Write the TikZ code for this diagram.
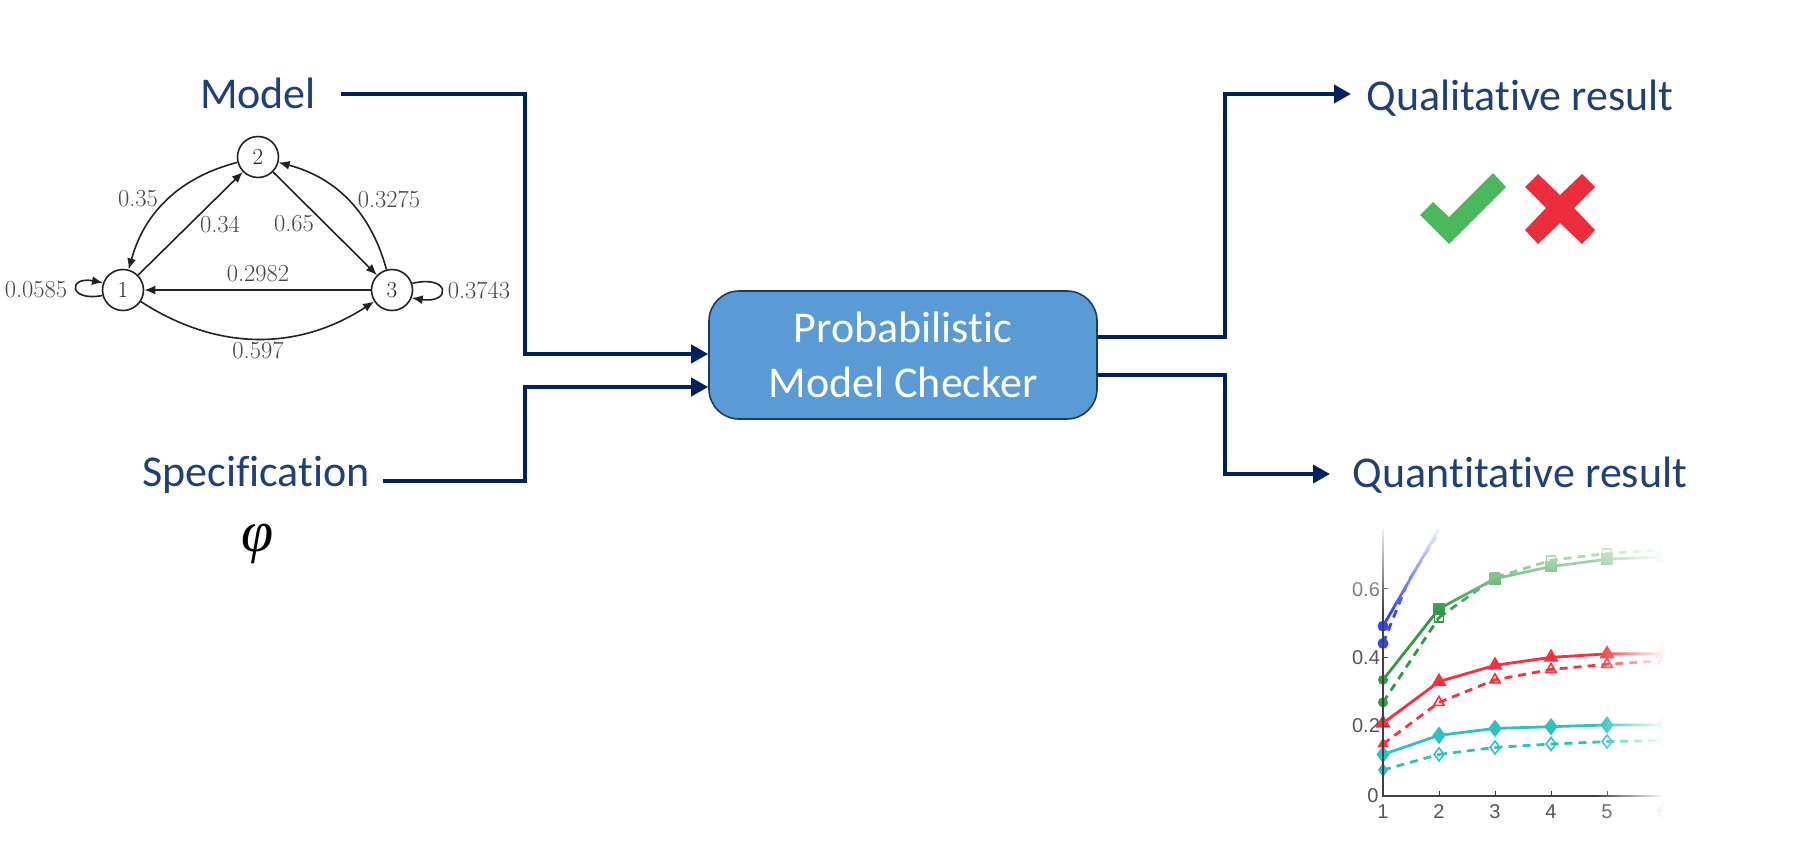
\documentclass[tikz,border=0pt]{standalone}
\usepackage{fontspec}
\usetikzlibrary{arrows.meta,plotmarks,fadings}
\newfontfamily\carlito[Ligatures=NoCommon]{Carlito}
\newfontfamily\arialish{Liberation Sans}
\newfontfamily\timesish{Liberation Serif}
\definecolor{navy}{HTML}{002060}
\definecolor{titlecol}{HTML}{1F3F7A}
\definecolor{boxfill}{HTML}{5B9BD5}
\definecolor{boxline}{HTML}{1F3864}
\definecolor{graphcol}{HTML}{222222}
\definecolor{labcol}{HTML}{444444}
\definecolor{ticklabcol}{HTML}{555555}
\definecolor{okgreen}{HTML}{4CB85C}
\definecolor{badred}{HTML}{EE2D3C}
\definecolor{cgreen}{HTML}{2F9B45}
\definecolor{cred}{HTML}{FA2F40}
\definecolor{ccyan}{HTML}{2EC2C2}
\definecolor{cblue}{HTML}{3344FF}
\tikzset{
  x=1pt,y=-1pt,
  conn/.style={draw=navy,line width=3.8pt,miter limit=10},
  connarrow/.style={conn,-{Triangle[length=17pt,width=18pt]}},
  title/.style={anchor=base,inner sep=0pt,text=titlecol,font=\carlito\fontsize{44}{50}\selectfont},
  checker/.style={draw=boxline,line width=1.6pt,fill=boxfill,rounded corners=30pt,minimum width=388pt,minimum height=128pt,align=center,text=white,font=\carlito\fontsize{44}{55}\selectfont},
  state/.style={circle,draw=graphcol,line width=1.6pt,minimum size=41pt,inner sep=0pt,text=graphcol,font=\fontsize{23}{26}\selectfont},
  edge/.style={draw=graphcol,line width=1.6pt,-{Latex[length=11pt,width=9pt]}},
  problab/.style={inner sep=0pt,text=labcol,font=\fontsize{24.5}{26}\selectfont},
  ticklab/.style={inner sep=0pt,text=ticklabcol,font=\arialish\fontsize{20}{24}\selectfont},
  axisline/.style={draw=black!75,line width=1.8pt},
  solidcurve/.style={line width=2.8pt},
  dashcurve/.style={line width=2.8pt,dash pattern=on 8pt off 6pt},
}
\begin{document}
\begin{tikzpicture}
\useasboundingbox (0,0) rectangle (1794,852);
% titles
\node[title] (model) at (258,108) {Model};
\node[title] (spec) at (256,486) {Specification};
\node[title] (qual) at (1520,110) {Qualitative result};
\node[title] (quant) at (1520,487) {Quantitative result};
\node[inner sep=0pt,font=\timesish\itshape\fontsize{58}{60}\selectfont] (phi) at (258,544) {φ};
\node[checker] (chk) at (903,355) {Probabilistic\\Model Checker};
% connector helpers
\coordinate (mstart) at (341,94);
\coordinate (mbend) at (525,354);
\coordinate (sstart) at (383,481);
\coordinate (sbend) at (525,387);
\coordinate (qlout) at (1225,337);
\coordinate (qltip) at (1351,94);
\coordinate (qnout) at (1225,375);
\coordinate (qntip) at (1330,474);
\draw[connarrow] (mstart) -| (mbend) -- (mbend -| chk.west);
\draw[connarrow] (sstart) -| (sbend) -- (sbend -| chk.west);
\draw[connarrow] (qlout -| chk.east) -- (qlout) |- (qltip);
\draw[connarrow] (qnout -| chk.east) -- (qnout) |- (qntip);
% Markov chain
\node[state] (n1) at (123,290) {1};
\node[state] (n2) at (258,157) {2};
\node[state] (n3) at (392,290) {3};
\draw[edge] (n2) to[bend right=30] (n1);
\draw[edge] (n1) -- (n2);
\draw[edge] (n2) -- (n3);
\draw[edge] (n3) to[bend right=30] (n2);
\draw[edge] (n3) -- (n1);
\draw[edge] (n1) to[bend right=33] (n3);
\draw[edge] (n1.195) .. controls (68,302) and (68,276) .. (n1.160);
\draw[edge] (n3.18) .. controls (450,274) and (452,304) .. (n3.-22);
\node[problab] (p35) at (138,199) {0.35};
\node[problab] (p34) at (220,224) {0.34};
\node[problab] (p65) at (294,224) {0.65};
\node[problab] (p3275) at (389,199) {0.3275};
\node[problab] (p2982) at (258,274) {0.2982};
\node[problab] (p0585) at (36,290) {0.0585};
\node[problab] (p3743) at (479,290) {0.3743};
\node[problab] (p597) at (258,350) {0.597};
% check and cross
\fill[okgreen] (1420,215) -- (1433,202) -- (1449,217) -- (1493,173) -- (1506,187) -- (1449,244) -- cycle;
\fill[badred] (1538,174) -- (1560,195) -- (1582,174) -- (1595,187) -- (1574,208) -- (1595,230) -- (1582,244) -- (1560,223) -- (1538,244) -- (1525,230) -- (1546,208) -- (1525,187) -- cycle;
% chart
\begin{scope}[shift={(1327,796)},x=56pt,y=346.67pt]
  \draw[cblue,solidcurve] (1,.49) -- (2,.77);
  \draw[cblue,dashcurve] (1,.44) -- (1.45,.62) -- (2,.76);
  \fill[cblue] (1,.49) circle[radius=5.5pt] (1,.44) circle[radius=5.5pt];
  \draw[cgreen,solidcurve] plot[mark=square*,mark size=4.5pt,mark options={solid,fill=cgreen}] coordinates {(2,.54)(3,.627)(4,.662)(5,.683)(6,.69)};
  \draw[cgreen,solidcurve] (1,.335) -- (2,.54);
  \fill[cgreen] (1,.335) circle[radius=5pt];
  \draw[cgreen,dashcurve] plot[mark=square,mark size=4.5pt,mark options={solid,line width=1.6pt}] coordinates {(2,.515)(3,.63)(4,.68)(5,.70)(6,.71)};
  \draw[cgreen,dashcurve] (1,.27) -- (2,.515);
  \fill[cgreen] (1,.27) circle[radius=5pt];
  \draw[cred,solidcurve] plot[mark=triangle*,mark size=6pt,mark options={solid,fill=cred}] coordinates {(1,.21)(2,.33)(3,.377)(4,.4)(5,.41)(6,.41)};
  \draw[cred,dashcurve] plot[mark=triangle,mark size=6pt,mark options={solid,line width=1.6pt}] coordinates {(2,.27)(3,.335)(4,.365)(5,.38)(6,.39)};
  \draw[cred,dashcurve] (1,.15) -- (2,.27);
  \draw[cred] plot[mark=triangle*,mark size=6pt,mark options={solid,fill=cred}] coordinates {(1,.15)};
  \draw[ccyan,solidcurve] plot[mark=diamond*,mark size=6.5pt,mark options={solid,fill=ccyan}] coordinates {(1,.12)(2,.175)(3,.195)(4,.2)(5,.205)(6,.205)};
  \draw[ccyan,dashcurve] plot[mark=diamond,mark size=6.5pt,mark options={solid,line width=1.6pt}] coordinates {(2,.12)(3,.14)(4,.15)(5,.157)(6,.16)};
  \draw[ccyan,dashcurve] (1,.075) -- (2,.12);
  \draw[ccyan] plot[mark=diamond*,mark size=6.5pt,mark options={solid,fill=ccyan}] coordinates {(1,.075)};
  % axes
  \draw[axisline] (1,.77) -- (1,0) -- (6,0);
  \foreach \v in {.2,.4,.6} \draw[axisline,line width=1pt] (1,\v) -- +(5pt,0);
  \foreach \u in {2,3,4,5} \draw[axisline,line width=1pt] (\u,0) -- +(0,5pt);
  \node[ticklab] (y6) at (.696,.594) {0.6};
  \node[ticklab] (y4) at (.696,.398) {0.4};
  \node[ticklab] (y2) at (.696,.202) {0.2};
  \node[ticklab] (y0) at (.82,0) {0};
  \node[ticklab] (x1) at (1,-.046) {1};
  \node[ticklab] (x2) at (2,-.046) {2};
  \node[ticklab] (x3) at (3,-.046) {3};
  \node[ticklab] (x4) at (4,-.046) {4};
  \node[ticklab] (x5) at (5,-.046) {5};
  \node[ticklab] (x6) at (6,-.046) {6};
\end{scope}
% fades of the pasted chart
\fill[white,path fading=west] (1595,515) rectangle (1665,830);
\fill[white] (1665,515) rectangle (1690,830);
\fill[white,path fading=south] (1340,522) rectangle (1680,612);
\end{tikzpicture}
\end{document}
